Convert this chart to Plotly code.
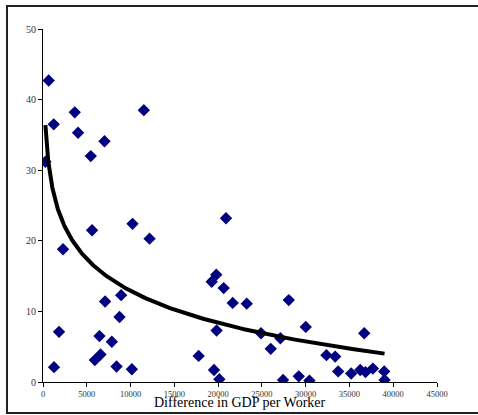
import numpy as np
import plotly.graph_objects as go

# Difference in GDP per worker (x) and vertical values (y)
gdp_diff = [650, 1224, 3626, 4004, 5456, 7024, 11518, 275,
            5606, 10226, 12171, 2288, 20900, 19790, 19264, 20636, 21665,
            7092, 8923, 8740, 1830, 6450, 7860, 6570, 5920, 1258, 8400, 10150,
            17780, 19830, 19530, 20140, 23270, 28070, 24900, 27110, 26010,
            30010, 36690, 32370, 33370, 33710, 35200, 36230, 36830, 37680,
            38970, 39010, 27420, 29210, 30430]
values = [42.7, 36.5, 38.2, 35.3, 32.0, 34.1, 38.5, 31.2,
          21.5, 22.4, 20.3, 18.8, 23.2, 15.2, 14.2, 13.3, 11.2,
          11.4, 12.3, 9.2, 7.1, 6.5, 5.7, 3.9, 3.1, 2.1, 2.2, 1.8,
          3.7, 7.3, 1.7, 0.4, 11.1, 11.6, 6.9, 6.2, 4.7,
          7.8, 6.9, 3.8, 3.6, 1.5, 1.2, 1.7, 1.4, 1.9,
          1.5, 0.3, 0.3, 0.8, 0.2]

x_ticks = [0, 5000, 10000, 15000, 20000, 25000, 30000, 35000, 40000, 45000]
y_ticks = [0, 10, 20, 30, 40, 50]
x_title = "Difference in GDP per Worker"

# Logarithmic trendline (least squares of y on ln x), over the data range
xa = np.array(gdp_diff, dtype=float)
ya = np.array(values, dtype=float)
b, a = np.polyfit(np.log(xa), ya, 1)
xt = np.geomspace(xa.min(), xa.max(), 300)
yt = a + b * np.log(xt)

SERIF = "Liberation Serif, Times New Roman, serif"

fig = go.Figure()
fig.add_trace(go.Scatter(
    x=gdp_diff, y=values, mode="markers",
    marker=dict(symbol="diamond", size=9.5, color="#000080",
                line=dict(width=0)),
    showlegend=False, hoverinfo="x+y"))
fig.add_trace(go.Scatter(
    x=xt, y=yt, mode="lines",
    line=dict(color="black", width=4),
    showlegend=False, hoverinfo="skip"))

L, R, T, B = 43, 41, 29, 33
W, H = 478, 415
pw, ph = W - L - R, H - T - B

fig.update_layout(
    width=W, height=H,
    margin=dict(l=L, r=R, t=T, b=B, pad=0),
    paper_bgcolor="white", plot_bgcolor="white",
    font=dict(family=SERIF, color="#333333"),
    xaxis=dict(range=[0, 45000], tickvals=x_ticks,
               ticktext=[str(v) for v in x_ticks],
               showgrid=False, zeroline=False, showline=True,
               linecolor="black", linewidth=1,
               ticks="outside", ticklen=4, tickcolor="black",
               tickfont=dict(size=8.5, family=SERIF, color="#333333")),
    yaxis=dict(range=[0, 50], tickvals=y_ticks,
               showgrid=False, zeroline=False, showline=True,
               linecolor="black", linewidth=1,
               ticks="outside", ticklen=4, tickcolor="black",
               tickfont=dict(size=10, family=SERIF, color="#333333")),
    annotations=[dict(text=x_title, xref="paper", yref="paper",
                      x=0.5, y=(382 - 402) / ph, xanchor="center",
                      yanchor="middle", showarrow=False,
                      font=dict(size=14, family=SERIF, color="black"))],
    shapes=[dict(type="rect", xref="paper", yref="paper",
                 x0=(7 - L) / pw, x1=(480 - L) / pw,
                 y0=(H - B - 413) / ph, y1=(H - B - 6) / ph,
                 line=dict(color="#222222", width=2),
                 fillcolor="rgba(0,0,0,0)", layer="below")],
)

fig.write_html("out.html",
               config={"displayModeBar": False},
               post_script="document.body.style.margin='0';"
                           "document.body.style.overflow='hidden';")
